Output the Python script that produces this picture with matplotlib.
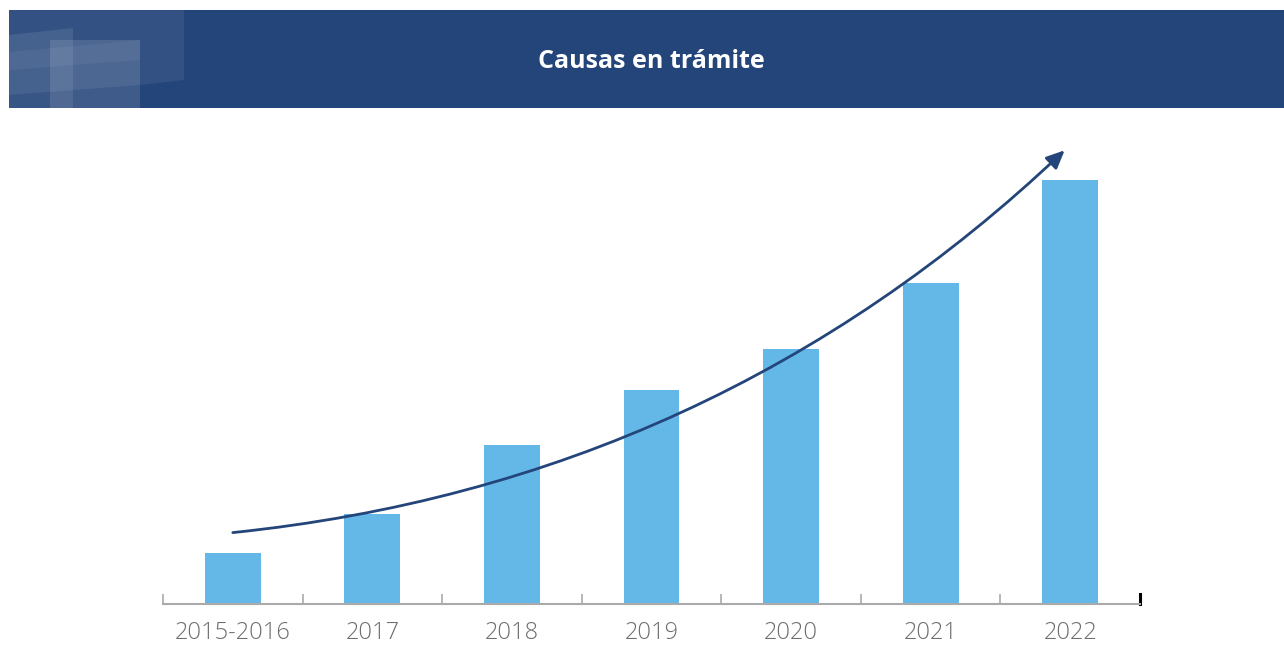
import numpy as np
import matplotlib.pyplot as plt
from matplotlib.patches import Rectangle, Polygon

# datos (alturas relativas)
years = ['2015-2016', '2017', '2018', '2019', '2020', '2021', '2022']
causas = [51, 90, 159, 214, 255, 321, 424]

title = 'Causas en trámite'
bar_color = '#64B8E8'
navy = '#24457A'

W, H = 1284, 645
fig = plt.figure(figsize=(W / 100, H / 100), dpi=100)
fig.patch.set_facecolor('white')

# cabecera
head = fig.add_axes([0, 0, 1, 1], zorder=0)
head.set_xlim(0, W)
head.set_ylim(H, 0)
head.axis('off')
head.add_patch(Rectangle((9, 10), W - 9, 98, color=navy, lw=0))
head.add_patch(Polygon([(9, 10), (184, 10), (184, 80), (140, 85), (9, 95)],
                       closed=True, color='white', alpha=0.07, lw=0))
head.add_patch(Polygon([(9, 35), (73, 28), (73, 108), (9, 108)],
                       closed=True, color='white', alpha=0.09, lw=0))
head.add_patch(Polygon([(50, 40), (140, 40), (140, 108), (50, 108)],
                       closed=True, color='white', alpha=0.12, lw=0))
head.add_patch(Polygon([(9, 52), (140, 40), (140, 60), (9, 70)],
                       closed=True, color='white', alpha=0.05, lw=0))
head.text(651, 61, title, color='white', fontsize=18, fontweight='bold',
          family='Open Sans', ha='center', va='center')

# grafico
ax = fig.add_axes([163 / W, 41 / H, 977 / W, 474 / H], zorder=1)
x = np.arange(len(years))
ax.bar(x, causas, width=0.4, color=bar_color, zorder=2)
ax.set_xlim(-0.5, len(years) - 0.5)
ax.set_ylim(0, 474)
ax.patch.set_alpha(0)

for s in ['top', 'right', 'left']:
    ax.spines[s].set_visible(False)
ax.spines['bottom'].set_color('#AAAAAA')
ax.spines['bottom'].set_linewidth(1.5)
ax.set_yticks([])

ax.set_xticks(x)
ax.set_xticklabels(years, fontsize=17, color='#6E6E6E', family='Open Sans',
                   fontweight='light')
ax.tick_params(axis='x', length=0, pad=12)
ax.set_xticks(np.arange(-0.5, len(years)), minor=True)
ax.tick_params(axis='x', which='minor', direction='in', length=7,
               width=1.2, color='#AAAAAA')
ax.axvline(len(years) - 0.5, ymin=0, ymax=10 / 474, color='black', lw=2.2,
           clip_on=False)

# flecha de tendencia
ax.annotate('', xy=(len(years) - 1.04, causas[-1] * 1.07),
            xytext=(0, causas[0] * 1.4),
            arrowprops=dict(arrowstyle='-|>,head_length=1.1,head_width=0.5',
                            connectionstyle='arc3,rad=0.17', color=navy,
                            lw=2, shrinkA=0, shrinkB=0),
            zorder=3)

fig.savefig('out.png', dpi=100)
